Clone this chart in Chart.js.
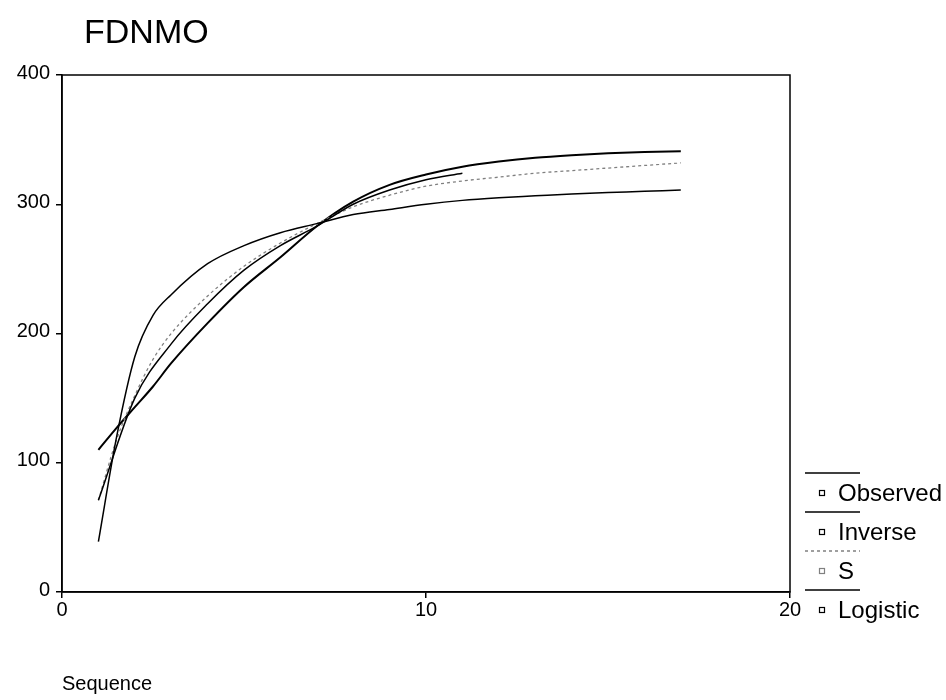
<!DOCTYPE html>
<html>
<head>
<meta charset="utf-8">
<title>FDNMO</title>
<script src="https://cdn.jsdelivr.net/npm/chart.js@4"></script>
<style>
  body { margin: 0; background: #fff; }
  #wrap { width: 946px; height: 700px; position: relative; }
</style>
</head>
<body>
<div id="wrap"><canvas id="chart1"></canvas></div>
<script>
// sequence values (x) and the fitted / observed series
var seqX = [1, 1.5, 2, 2.5, 3, 4, 5, 6, 7, 8, 9, 10, 11, 12, 13, 14, 15, 16, 17];
var observedX = [1, 2, 3, 4, 5, 6, 7, 8, 9, 10, 11];
var observed = [71, 150, 192, 223, 249, 268, 283, 300, 311, 319, 324];
var inverse = [39, 120, 182, 214, 230, 254, 268, 278, 285, 292, 296, 300, 303, 305, 306.5, 308, 309, 310, 311];
var sCurve = [71, 118, 152, 180, 200, 229, 252, 270, 285, 298, 307, 314, 318, 321, 324, 326, 328, 330, 332];
var logistic = [110, 127, 143, 159, 177, 208, 236, 259, 283, 302, 315, 323, 329, 333, 336, 338, 339.5, 340.5, 341];
var xTicks = [0, 10, 20];
var yTicks = [0, 100, 200, 300, 400];

var FONT = '"Liberation Sans", Arial, Helvetica, sans-serif';

function pts(xs, ys) {
    return xs.map(function (x, i) { return { x: x, y: ys[i] }; });
}

// title, x caption, frame and the old-style legend
var extras = {
    id: 'extras',
    afterDraw: function (chart) {
        var ctx = chart.ctx;
        var a = chart.chartArea;
        ctx.save();
        ctx.strokeStyle = '#000';
        ctx.lineWidth = 1.5;
        ctx.strokeRect(a.left, a.top, a.right - a.left, a.bottom - a.top);

        ctx.fillStyle = '#000';
        ctx.textBaseline = 'alphabetic';
        ctx.textAlign = 'left';
        ctx.font = '34px ' + FONT;
        ctx.fillText('FDNMO', 84, 43);
        ctx.font = '20px ' + FONT;
        ctx.fillText('Sequence', 62, 690);

        var top = 473;
        chart.data.datasets.forEach(function (ds, i) {
            var y = top + i * 39;
            ctx.strokeStyle = ds.borderColor;
            ctx.lineWidth = 1.5;
            ctx.setLineDash(ds.borderDash || []);
            ctx.beginPath();
            ctx.moveTo(805, y);
            ctx.lineTo(860, y);
            ctx.stroke();
            ctx.setLineDash([]);
            ctx.lineWidth = 1.2;
            ctx.strokeRect(819.5, y + 17.5, 5, 5);
            ctx.fillStyle = '#000';
            ctx.font = '24px ' + FONT;
            ctx.textBaseline = 'middle';
            ctx.fillText(ds.label, 838, y + 21);
        });
        ctx.restore();
    }
};

var ctx = document.getElementById('chart1').getContext('2d');
var myChart = new Chart(ctx, {
    type: 'line',
    data: {
        datasets: [{
            label: 'Observed',
            data: pts(observedX, observed),
            borderColor: '#000',
            borderWidth: 1.5
        }, {
            label: 'Inverse',
            data: pts(seqX, inverse),
            borderColor: '#000',
            borderWidth: 1.5
        }, {
            label: 'S',
            data: pts(seqX, sCurve),
            borderColor: '#808080',
            borderWidth: 1.3,
            borderDash: [3, 3]
        }, {
            label: 'Logistic',
            data: pts(seqX, logistic),
            borderColor: '#000',
            borderWidth: 2
        }]
    },
    options: {
        responsive: true,
        maintainAspectRatio: false,
        animation: false,
        layout: { padding: { top: 75, right: 156, bottom: 0, left: 0 } },
        elements: {
            point: { radius: 0 },
            line: { cubicInterpolationMode: 'monotone', fill: false }
        },
        plugins: {
            legend: { display: false },
            title: { display: false },
            tooltip: { enabled: false }
        },
        scales: {
            x: {
                type: 'linear',
                min: 0,
                max: 20,
                afterFit: function (s) { s.height = 108; },
                afterBuildTicks: function (s) {
                    s.ticks = xTicks.map(function (v) { return { value: v }; });
                },
                grid: { drawOnChartArea: false, tickLength: 6, color: '#000', lineWidth: 1.5 },
                border: { color: '#000', width: 1.5 },
                ticks: { color: '#000', padding: 0, maxRotation: 0, font: { family: FONT, size: 20 } }
            },
            y: {
                min: 0,
                max: 400,
                afterFit: function (s) { s.width = 62; },
                afterBuildTicks: function (s) {
                    s.ticks = yTicks.map(function (v) { return { value: v }; });
                },
                grid: { drawOnChartArea: false, tickLength: 6, color: '#000', lineWidth: 1.5 },
                border: { color: '#000', width: 1.5 },
                ticks: { color: '#000', padding: 6, labelOffset: -2, font: { family: FONT, size: 20 } }
            }
        }
    },
    plugins: [extras]
});
</script>
</body>
</html>
